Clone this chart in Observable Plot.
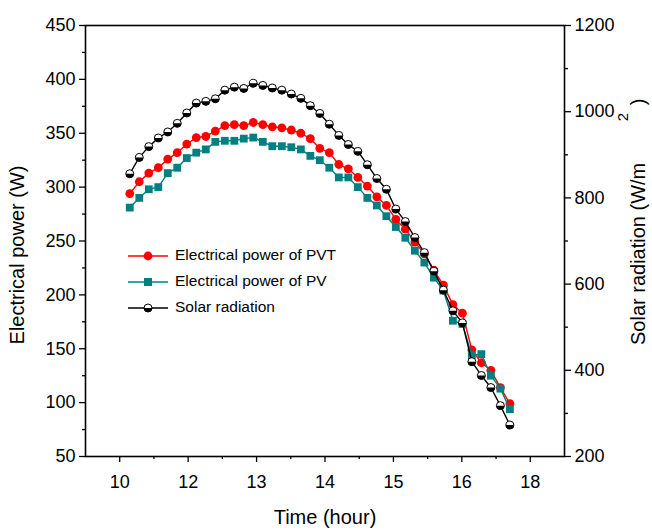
<!DOCTYPE html>
<html>
<head>
<meta charset="utf-8">
<script src="https://cdn.jsdelivr.net/npm/d3@7"></script>
<script src="https://cdn.jsdelivr.net/npm/@observablehq/plot@0.6"></script>
<style>
  html, body { margin: 0; padding: 0; background: #fff; }
  #chart { position: relative; width: 652px; height: 532px; }
</style>
</head>
<body>
<div id="chart"></div>
<script>
// Time positions along the drawn axis (axis units)
const timePos = [10.147, 10.286, 10.425, 10.564, 10.702, 10.841, 10.980, 11.119, 11.258, 11.397,
  11.536, 11.675, 11.813, 11.952, 12.091, 12.230, 12.369, 12.508, 12.647, 12.786,
  12.924, 13.063, 13.202, 13.341, 13.480, 13.619, 13.758, 13.897, 14.035, 14.174,
  14.313, 14.452, 14.591, 14.730, 14.869, 15.008, 15.146, 15.285, 15.424, 15.563, 15.702];
// Electrical power of PVT (W)
const pvtPower = [294, 305, 313, 318, 326, 332, 340, 346, 347, 352,
  357, 358, 357, 360, 358, 356, 355, 353, 350, 345,
  336, 332, 321, 317, 309, 301, 291, 283, 270, 261,
  249, 238, 223, 209, 191, 183, 149, 137, 130, 114, 99];
// Electrical power of PV (W)
const pvPower = [281, 290, 298, 300, 313, 318, 327, 332, 335, 342,
  343, 343, 345, 346, 342, 338, 338, 337, 335, 329,
  325, 318, 309, 309, 300, 290, 283, 273, 263, 253,
  241, 230, 216, 204, 176, 173, 144, 145, 125, 113, 94];
// Solar radiation (W/m2)
const solarRad = [856, 894, 919, 939, 953, 973, 997, 1020, 1024, 1030,
  1050, 1057, 1054, 1066, 1061, 1055, 1050, 1041, 1031, 1014,
  996, 971, 945, 924, 908, 877, 845, 820, 774, 745,
  708, 673, 630, 586, 538, 510, 420, 388, 360, 318, 273];

const xTickValues = [10, 11, 12, 13, 14, 15, 16];
const xTickLabels = ["10", "12", "13", "14", "15", "16", "18"];
const xMinorTicks = [10.5, 11.5, 12.5, 13.5, 14.5, 15.5];
const leftTicks = [50, 100, 150, 200, 250, 300, 350, 400, 450];
const leftMinorTicks = [75, 125, 175, 225, 275, 325, 375, 425];
const rightTicks = [200, 400, 600, 800, 1000, 1200];
const rightMinorTicks = [300, 500, 700, 900, 1100];

const seriesNames = ["Electrical power of PVT", "Electrical power of PV", "Solar radiation"];
const seriesColors = ["#ff0000", "#008080", "#000000"];

// map solar radiation (right axis 200..1200) onto the left axis units (50..450)
const toLeft = s => 50 + (s - 200) * 0.4;
const fromLeft = v => 200 + (v - 50) * 2.5;

const rows = timePos.map((t, i) => ({t, pvt: pvtPower[i], pv: pvPower[i], solar: toLeft(solarRad[i])}));

const halfDisc = {
  draw(context, size) {
    const r = Math.sqrt(size / Math.PI);
    context.moveTo(r, 0);
    context.arc(0, 0, r, 0, Math.PI);
    context.closePath();
  }
};

const FONT = "Liberation Sans, Arial, sans-serif";

const plot = Plot.plot({
  width: 652,
  height: 532,
  marginLeft: 85,
  marginRight: 88,
  marginTop: 25,
  marginBottom: 76,
  style: {fontFamily: FONT, fontSize: "18px", color: "#000", background: "#fff"},
  x: {domain: [9.5, 16.5]},
  y: {domain: [50, 450]},
  marks: [
    Plot.axisX({ticks: xTickValues, tickSize: 6, tickPadding: 13, tickFormat: d => xTickLabels[xTickValues.indexOf(d)], strokeWidth: 1.3, label: null}),
    Plot.axisX({ticks: xMinorTicks, tickSize: 3, tickFormat: () => "", strokeWidth: 1.3, label: null}),
    Plot.axisY({ticks: leftTicks, tickSize: 6, tickPadding: 4, strokeWidth: 1.3, label: null}),
    Plot.axisY({ticks: leftMinorTicks, tickSize: 3, tickFormat: () => "", strokeWidth: 1.3, label: null}),
    Plot.axisY({anchor: "right", ticks: rightTicks.map(toLeft), tickFormat: v => String(Math.round(fromLeft(v))), tickSize: 6, tickPadding: 4, strokeWidth: 1.3, label: null}),
    Plot.axisY({anchor: "right", ticks: rightMinorTicks.map(toLeft), tickSize: 3, tickFormat: () => "", strokeWidth: 1.3, label: null}),
    Plot.frame({stroke: "#000", strokeWidth: 1.6}),
    Plot.line(rows, {x: "t", y: "pvt", stroke: seriesColors[0], strokeWidth: 1.4}),
    Plot.dot(rows, {x: "t", y: "pvt", fill: seriesColors[0], r: 4.4, symbol: "circle"}),
    Plot.line(rows, {x: "t", y: "pv", stroke: seriesColors[1], strokeWidth: 1.4}),
    Plot.dot(rows, {x: "t", y: "pv", fill: seriesColors[1], r: 4.4, symbol: "square"}),
    Plot.line(rows, {x: "t", y: "solar", stroke: seriesColors[2], strokeWidth: 1.4}),
    Plot.dot(rows, {x: "t", y: "solar", fill: "#fff", stroke: "#000", strokeWidth: 1, r: 4}),
    Plot.dot(rows, {x: "t", y: "solar", fill: "#000", r: 4, symbol: halfDisc})
  ]
});

document.getElementById("chart").appendChild(plot);

// titles and legend
const svg = d3.select(plot);
function addText(tf, anchor, size, str) {
  return svg.append("text")
    .attr("transform", tf)
    .attr("text-anchor", anchor)
    .attr("dominant-baseline", "middle")
    .attr("fill", "#000")
    .style("font-family", FONT).style("font-size", size)
    .text(str);
}
addText("translate(325,519)", "middle", "20px", "Time (hour)");
addText("translate(19,255) rotate(-90)", "middle", "20px", "Electrical power (W)");
addText("translate(640,345) rotate(-90)", "start", "20px", "Solar radiation (W/m");
addText("translate(624,117) rotate(-90)", "middle", "15px", "2");
addText("translate(640,102) rotate(-90)", "middle", "20px", ")");

const lg = svg.append("g").style("font-family", FONT).style("font-size", "15.5px");
seriesNames.forEach((name, i) => {
  const y = 256 + i * 26;
  const g = lg.append("g").attr("transform", `translate(0,${y})`);
  g.append("line").attr("x1", 128).attr("x2", 168).attr("y1", 0).attr("y2", 0)
    .attr("stroke", seriesColors[i]).attr("stroke-width", 1.4);
  if (i === 0) {
    g.append("circle").attr("cx", 148).attr("cy", 0).attr("r", 4.4).attr("fill", seriesColors[0]);
  } else if (i === 1) {
    g.append("rect").attr("x", 144).attr("y", -4).attr("width", 8).attr("height", 8).attr("fill", seriesColors[1]);
  } else {
    g.append("circle").attr("cx", 148).attr("cy", 0).attr("r", 4).attr("fill", "#fff").attr("stroke", "#000");
    g.append("path").attr("d", "M152,0A4,4 0 0 1 144,0Z").attr("fill", "#000");
  }
  g.append("text").attr("x", 175).attr("y", 0)
    .attr("text-anchor", "start").attr("dominant-baseline", "middle").attr("fill", "#000")
    .text(name);
});
</script>
</body>
</html>
